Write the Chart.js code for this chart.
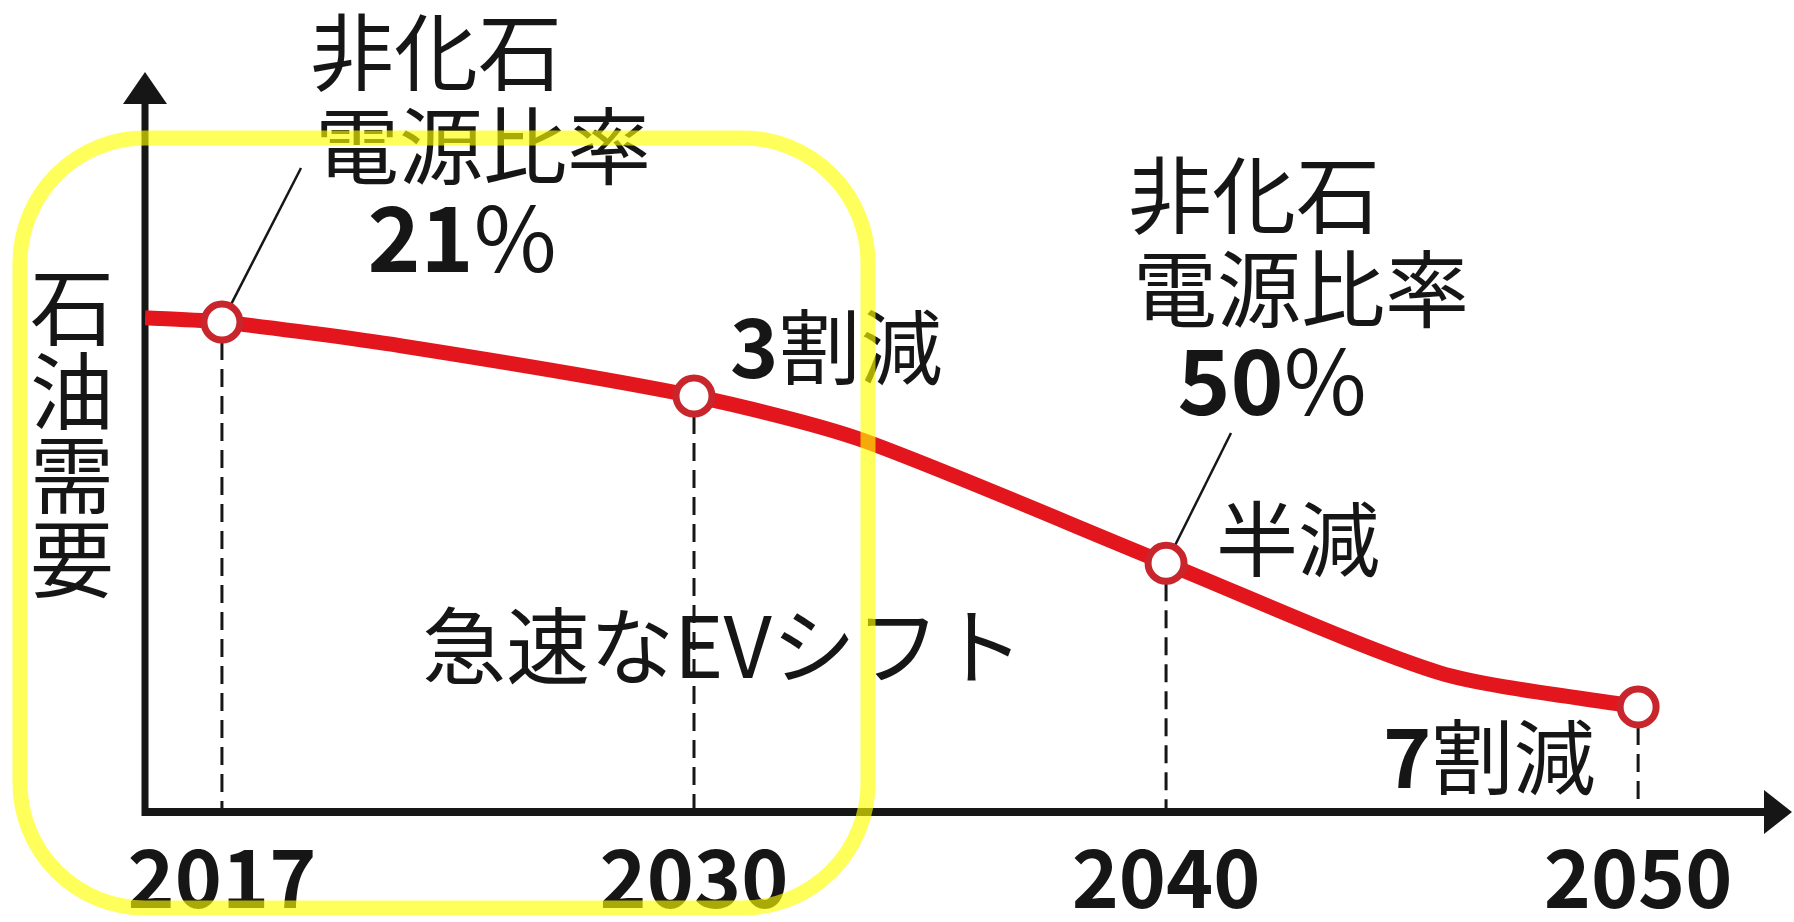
<!DOCTYPE html>
<html>
<head>
<meta charset="utf-8">
<script src="https://cdn.jsdelivr.net/npm/chart.js@4"></script>
<style>
  html, body { margin: 0; padding: 0; background: #fff; }
  canvas { display: block; }
</style>
</head>
<body>
<canvas id="oil_chart" width="1794" height="922"></canvas>
<script>
// axis years (drawn equally spaced, like the source)
const years = ["2017", "2030", "2040", "2050"];
const yearPos = [0, 1, 2, 3];
// oil demand at the marked years, relative (top of the axis = 100)
const demand = [66.2, 56.2, 33.6, 14.2];
const curveX = [-0.163, 0, 0.38, 1, 1.35, 2, 2.58, 3];
const curveY = [66.8, 66.2, 63.0, 56.2, 50.4, 33.6, 18.8, 14.2];
// call-out texts
const shareNote = ["非化石", "電源比率"];
const shareValues = ["21", "50"];
const cutNotes = [["3", "割減"], ["", "半減"], ["7", "割減"]];
const yTitle = ["石", "油", "需", "要"];
const centerNote = "急速なEVシフト";

const JP = '"Noto Sans CJK JP", "Noto Sans CJK SC", sans-serif';
const INK = "#161616";

function richText(ctx, parts, x, y, size, align) {
    // parts: [text, bold]
    let w = 0;
    parts.forEach(p => {
        ctx.font = (p[1] ? "bold " : "") + size + "px " + JP;
        w += ctx.measureText(p[0]).width;
    });
    let cx = align === "center" ? x - w / 2 : x;
    ctx.textAlign = "left";
    ctx.textBaseline = "alphabetic";
    parts.forEach(p => {
        ctx.font = (p[1] ? "bold " : "") + size + "px " + JP;
        ctx.fillText(p[0], cx, y);
        cx += ctx.measureText(p[0]).width;
    });
}

const decor = {
    id: "decor",
    beforeDatasetsDraw(chart) {
        const ctx = chart.ctx;
        const xs = chart.scales.x, ys = chart.scales.y;
        const a = chart.chartArea;
        ctx.save();
        ctx.fillStyle = INK;
        ctx.strokeStyle = INK;

        // dashed drop lines
        ctx.lineWidth = 3;
        ctx.setLineDash([18, 9]);
        yearPos.forEach((p, i) => {
            const px = xs.getPixelForValue(p);
            ctx.beginPath();
            ctx.moveTo(px, ys.getPixelForValue(demand[i]) + 20);
            ctx.lineTo(px, a.bottom);
            ctx.stroke();
        });
        ctx.setLineDash([]);

        // y axis with arrow
        ctx.lineWidth = 7;
        ctx.beginPath();
        ctx.moveTo(a.left, a.top + 30);
        ctx.lineTo(a.left, a.bottom + 4);
        ctx.stroke();
        ctx.beginPath();
        ctx.moveTo(a.left, a.top);
        ctx.lineTo(a.left - 22, a.top + 32);
        ctx.lineTo(a.left + 22, a.top + 32);
        ctx.closePath();
        ctx.fill();

        // x axis with arrow
        ctx.lineWidth = 8;
        ctx.beginPath();
        ctx.moveTo(a.left - 3, a.bottom);
        ctx.lineTo(a.right - 24, a.bottom);
        ctx.stroke();
        ctx.beginPath();
        ctx.moveTo(a.right, a.bottom);
        ctx.lineTo(a.right - 28, a.bottom - 22);
        ctx.lineTo(a.right - 28, a.bottom + 22);
        ctx.closePath();
        ctx.fill();

        // leader lines to the call-outs
        ctx.lineWidth = 2.5;
        [[0, 301, 168], [2, 1231, 433]].forEach(([i, tx, ty]) => {
            const px = xs.getPixelForValue(yearPos[i]);
            const py = ys.getPixelForValue(demand[i]);
            const d = Math.hypot(tx - px, ty - py);
            ctx.beginPath();
            ctx.moveTo(px + (tx - px) / d * 20, py + (ty - py) / d * 20);
            ctx.lineTo(tx, ty);
            ctx.stroke();
        });
        ctx.restore();
    },
    afterDatasetsDraw(chart) {
        const ctx = chart.ctx;
        ctx.save();
        ctx.fillStyle = INK;

        // non-fossil share call-outs
        [[310, 84, 462], [1128, 227, 1272]].forEach(([lx, by, cx], i) => {
            ctx.font = "84px " + JP;
            ctx.textAlign = "left";
            ctx.textBaseline = "alphabetic";
            ctx.fillText(shareNote[0], lx, by);
            ctx.fillText(shareNote[1], lx + 5, by + 94);
            richText(ctx, [[shareValues[i], true], ["%", false]], cx, by + 188, 90, "center");
        });

        // reduction notes
        [[730, 378], [1216, 570], [1383, 788]].forEach(([x, y], i) => {
            richText(ctx, [[cutNotes[i][0], true], [cutNotes[i][1], false]], x, y, 82, "left");
        });

        // centre note
        ctx.font = "84px " + JP;
        ctx.textAlign = "left";
        ctx.textBaseline = "alphabetic";
        ctx.fillText(centerNote, 422, 678);

        // vertical axis title
        ctx.textAlign = "center";
        ctx.textBaseline = "middle";
        yTitle.forEach((c, i) => ctx.fillText(c, 72, 307 + i * 84));
        ctx.restore();
    },
    afterDraw(chart) {
        // yellow highlight frame
        const ctx = chart.ctx;
        ctx.save();
        ctx.strokeStyle = "rgba(255, 255, 0, 0.64)";
        ctx.lineWidth = 15;
        ctx.beginPath();
        ctx.roundRect(20, 138, 848, 770, 125);
        ctx.stroke();
        ctx.restore();
    }
};

new Chart(document.getElementById("oil_chart"), {
    type: "line",
    data: {
        datasets: [{
            label: "markers",
            data: yearPos.map((p, i) => ({ x: p, y: demand[i] })),
            showLine: false,
            pointRadius: 18,
            pointBorderWidth: 7,
            pointBackgroundColor: "#ffffff",
            pointBorderColor: "#c8262c",
            order: 0
        }, {
            label: "oil demand",
            data: curveX.map((x, i) => ({ x: x, y: curveY[i] })),
            borderColor: "#e3161d",
            borderWidth: 15,
            pointRadius: 0,
            tension: 0.25,
            order: 1
        }]
    },
    options: {
        responsive: false,
        animation: false,
        layout: { autoPadding: false, padding: { left: 145, right: 2, top: 72, bottom: 0 } },
        plugins: {
            legend: { display: false },
            tooltip: { enabled: false }
        },
        scales: {
            x: {
                type: "linear",
                min: -0.163,
                max: 3.326,
                grid: { display: false, drawTicks: false },
                border: { display: false },
                afterBuildTicks: s => { s.ticks = yearPos.map(v => ({ value: v })); },
                afterFit: s => { s.height = 110; },
                ticks: {
                    padding: 18,
                    autoSkip: false,
                    maxRotation: 0,
                    color: INK,
                    font: { family: JP, size: 80, weight: "bold" },
                    callback: v => years[yearPos.indexOf(v)]
                }
            },
            y: { display: false, min: 0, max: 100 }
        }
    },
    plugins: [decor]
});
</script>
</body>
</html>
